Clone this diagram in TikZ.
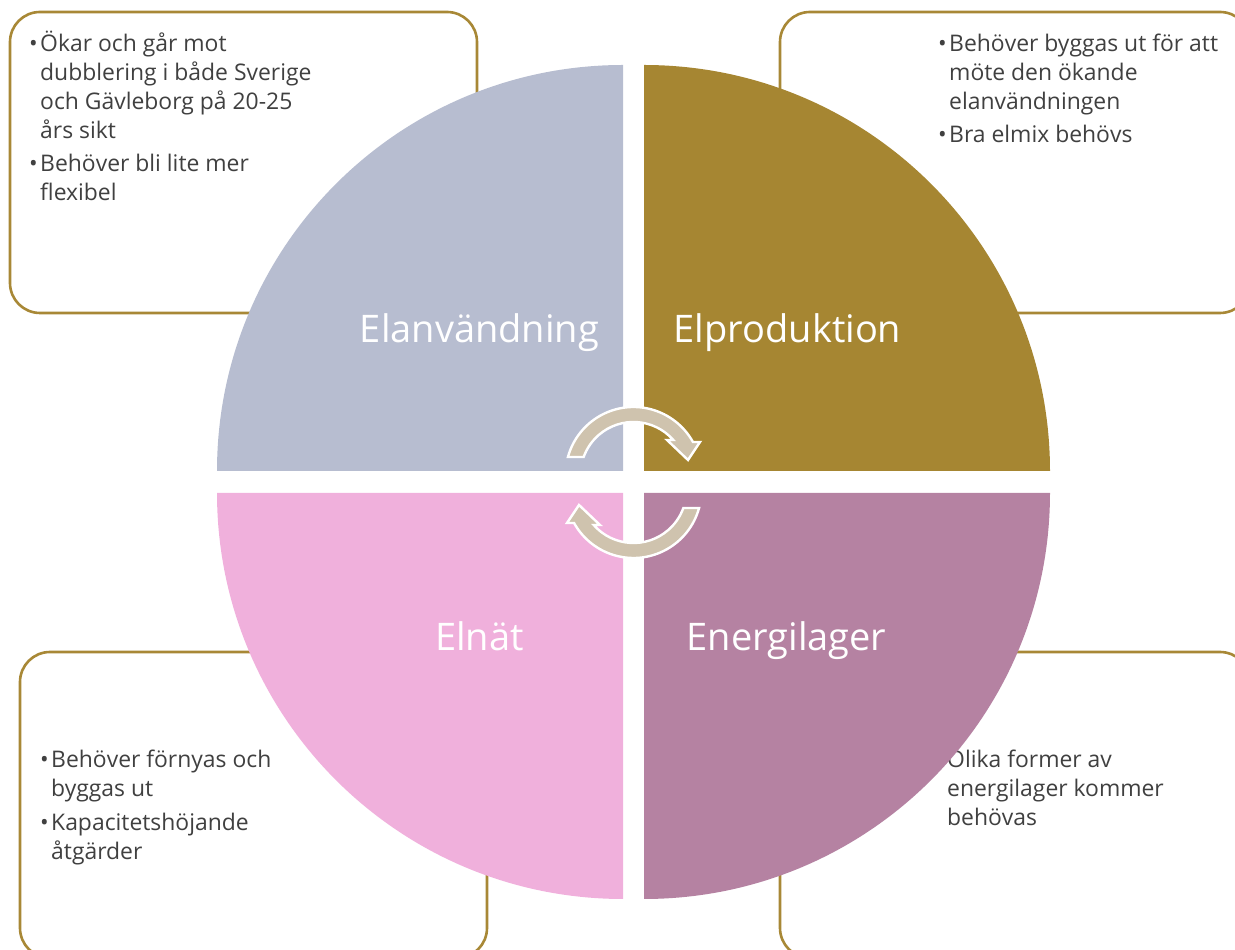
\documentclass[tikz,border=0pt]{standalone}
\usepackage{fontspec}
\setmainfont{Open Sans}
\definecolor{boxline}{RGB}{168,136,54}
\definecolor{qtl}{RGB}{183,189,208}
\definecolor{qtr}{RGB}{166,134,50}
\definecolor{qbl}{RGB}{240,176,220}
\definecolor{qbr}{RGB}{181,130,162}
\definecolor{arrowfill}{RGB}{207,195,174}
\definecolor{bodytext}{RGB}{64,64,64}
\tikzset{
  infobox/.style={draw=boxline, line width=2.6pt, rounded corners=30pt, fill=white},
  bodytxt/.style={anchor=base west, inner sep=0pt, align=left, text=bodytext, font=\fontsize{22.9}{28.7}\selectfont},
  bul/.style={anchor=base west, inner sep=0pt, text=bodytext, font=\fontsize{22.9}{28.7}\selectfont},
  qlabel/.style={anchor=base, inner sep=0pt, text=white, font=\fontsize{38}{40}\selectfont},
  cyclearrow/.style={fill=arrowfill, draw=white, line width=2.4pt, line join=miter},
}
\begin{document}
\begin{tikzpicture}[x=1pt,y=1pt]
\useasboundingbox (0,0) rectangle (1235,950);
% boxes
\draw[infobox] (10,637) rectangle (477,938);
\draw[infobox] (780,637) rectangle (1250,938);
\draw[infobox] (20,-8) rectangle (487,298);
\draw[infobox] (780,-8) rectangle (1250,298);
% box texts (base anchor = last line's baseline)
\node[bul] (b1) at (29,898) {•};
\node[bodytxt] (t1) at (40,811.9) {Ökar och går mot\\dubblering i både Sverige\\och Gävleborg på 20-25\\års sikt};
\node[bul] (b2) at (29,778) {•};
\node[bodytxt] (t2) at (40,749.3) {Behöver bli lite mer\\flexibel};
\node[bul] (b3) at (938,898) {•};
\node[bodytxt] (t3) at (949,840.6) {Behöver byggas ut för att\\möte den ökande\\elanvändningen};
\node[bul] (b4) at (938,807) {•};
\node[bodytxt] (t4) at (949,807) {Bra elmix behövs};
\node[bul] (b5) at (40,182) {•};
\node[bodytxt] (t5) at (51,153.3) {Behöver förnyas och\\byggas ut};
\node[bul] (b6) at (40,119) {•};
\node[bodytxt] (t6) at (51,90.3) {Kapacitetshöjande\\åtgärder};
\node[bul] (b7) at (936,182) {•};
\node[bodytxt] (t7) at (947,124.6) {Olika former av\\energilager kommer\\behövas};
% quadrants
\fill[qtl] (623,479) -- ++(-406,0) arc[start angle=180, end angle=90, radius=406] -- cycle;
\fill[qtr] (644,479) -- ++(406,0) arc[start angle=0, end angle=90, radius=406] -- cycle;
\fill[qbl] (623,457) -- ++(-406,0) arc[start angle=180, end angle=270, radius=406] -- cycle;
\fill[qbr] (644,457) -- ++(406,0) arc[start angle=0, end angle=-90, radius=406] -- cycle;
% labels
\node[qlabel] (l1) at (479.5,607) {Elanvändning};
\node[qlabel] (l2) at (787.5,607) {Elproduktion};
\node[qlabel] (l3) at (479.5,299) {Elnät};
\node[qlabel] (l4) at (786.5,299) {Energilager};
% cycle arrows
\begin{scope}[shift={(633.5,475)}]
\filldraw[cyclearrow] (164.65:68) arc[start angle=164.65, end angle=29.0, radius=68] -- (66.5,33) -- (54.5,15) -- (33.5,35) -- (41.3:53) arc[start angle=41.3, end angle=160.1, radius=53] -- cycle;
\end{scope}
\begin{scope}[rotate around={180:(633.5,467.5)}]
\begin{scope}[shift={(633.5,475)}]
\filldraw[cyclearrow] (164.65:68) arc[start angle=164.65, end angle=29.0, radius=68] -- (66.5,33) -- (54.5,15) -- (33.5,35) -- (41.3:53) arc[start angle=41.3, end angle=160.1, radius=53] -- cycle;
\end{scope}
\end{scope}
\end{tikzpicture}
\end{document}
